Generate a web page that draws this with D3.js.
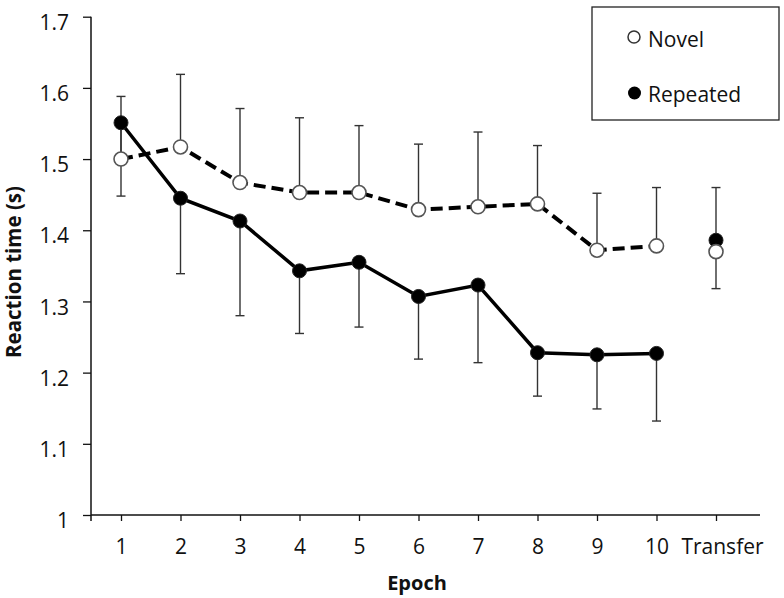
<!DOCTYPE html>
<html><head><meta charset="utf-8">
<script src="https://cdn.jsdelivr.net/npm/d3@7/dist/d3.min.js"></script>
<style>
html,body{margin:0;padding:0;background:#fff;}
text{font-family:"Open Sans",sans-serif;fill:#111;}
</style></head>
<body>
<svg id="chart" width="784" height="598"></svg>
<script>
const categories = ["1","2","3","4","5","6","7","8","9","10","Transfer"];
const novelMean  = [1.500,1.517,1.467,1.453,1.453,1.429,1.433,1.437,1.372,1.378,1.370];
const novelUpper = [1.588,1.619,1.571,1.558,1.547,1.521,1.538,1.519,1.452,1.460,1.460];
const repMean    = [1.551,1.445,1.413,1.343,1.355,1.307,1.323,1.228,1.225,1.227,1.386];
const repLower   = [1.448,1.339,1.280,1.255,1.264,1.219,1.214,1.167,1.149,1.132,1.318];
const yTicks = [1,1.1,1.2,1.3,1.4,1.5,1.6,1.7];
const yTickLabels = ["1","1.1","1.2","1.3","1.4","1.5","1.6","1.7"];
const lineCount = 10; // epochs connected by lines (Transfer not connected)

const svg = d3.select("#chart");
const x = d3.scalePoint().domain(categories).range([121, 716]);
const y = d3.scaleLinear().domain([1, 1.7]).range([515, 16.7]);

// Y axis
const yAxis = d3.axisLeft(y).tickValues(yTicks)
  .tickFormat((d,i)=>yTickLabels[i]).tickSizeOuter(0).tickSize(8).tickPadding(14);
const gy = svg.append("g").attr("transform","translate(91,0)").call(yAxis);
gy.select(".domain").attr("stroke","#111").attr("stroke-width",1.5).attr("d","M0,16.7V521");
gy.selectAll(".tick line").attr("stroke","#111").attr("stroke-width",1.3);
gy.selectAll(".tick text").attr("font-size",21).attr("dy","0.6em").style("fill","#111");

// X axis
const xAxis = d3.axisBottom(x).tickSize(6).tickSizeOuter(0).tickPadding(18);
const gx = svg.append("g").attr("transform","translate(0,515)").call(xAxis);
gx.select(".domain").attr("stroke","#111").attr("stroke-width",1.5).attr("d","M91,0H760");
gx.selectAll(".tick line").attr("stroke","#111").attr("stroke-width",1.3);
gx.selectAll(".tick text").attr("font-size",21).style("fill","#111")
  .attr("dx", d => d === "Transfer" ? 6 : 0);

// Axis titles
svg.append("text").attr("x",417).attr("y",590).attr("text-anchor","middle")
  .attr("font-size",20).attr("font-weight","bold").text("Epoch");
svg.append("text").attr("transform","translate(21,272) rotate(-90)").attr("text-anchor","middle")
  .attr("font-size",20.5).attr("font-weight","bold").text("Reaction time (s)");

// Error bars
const capW = 4.5;
function errBar(cat, v0, v1){
  const g = svg.append("g").attr("stroke","#333").attr("stroke-width",1.4);
  g.append("line").attr("x1",x(cat)).attr("x2",x(cat)).attr("y1",y(v0)).attr("y2",y(v1));
  g.append("line").attr("x1",x(cat)-capW).attr("x2",x(cat)+capW).attr("y1",y(v1)).attr("y2",y(v1));
}
categories.forEach((c,i)=>{ errBar(c, novelMean[i], novelUpper[i]); errBar(c, repMean[i], repLower[i]); });

// Lines
const line = d3.line().x(d=>x(d.c)).y(d=>y(d.v));
const novelPts = categories.map((c,i)=>({c, v:novelMean[i]}));
const repPts = categories.map((c,i)=>({c, v:repMean[i]}));
svg.append("path").datum(novelPts.slice(0,lineCount)).attr("d",line)
  .attr("fill","none").attr("stroke","#000").attr("stroke-width",4).attr("stroke-dasharray","12,6");
svg.append("path").datum(repPts.slice(0,lineCount)).attr("d",line)
  .attr("fill","none").attr("stroke","#000").attr("stroke-width",3.5);

// Markers
svg.selectAll(".rep").data(repPts).join("circle").attr("class","rep")
  .attr("cx",d=>x(d.c)).attr("cy",d=>y(d.v)).attr("r",7).attr("fill","#000").attr("stroke","#222").attr("stroke-width",1);
svg.selectAll(".nov").data(novelPts).join("circle").attr("class","nov")
  .attr("cx",d=>x(d.c)).attr("cy",d=>y(d.v)).attr("r",7).attr("fill","#fff").attr("stroke","#555").attr("stroke-width",1.6);

// Legend
svg.append("rect").attr("x",592).attr("y",7).attr("width",187).attr("height",113)
  .attr("fill","#fff").attr("stroke","#222").attr("stroke-width",1.3);
svg.append("circle").attr("cx",634).attr("cy",37).attr("r",6).attr("fill","#fff").attr("stroke","#333").attr("stroke-width",1.5);
svg.append("text").attr("x",648).attr("y",47).attr("font-size",21).text("Novel");
svg.append("circle").attr("cx",634.5).attr("cy",93).attr("r",6.5).attr("fill","#000");
svg.append("text").attr("x",648).attr("y",102).attr("font-size",21).text("Repeated");
</script>
</body></html>
